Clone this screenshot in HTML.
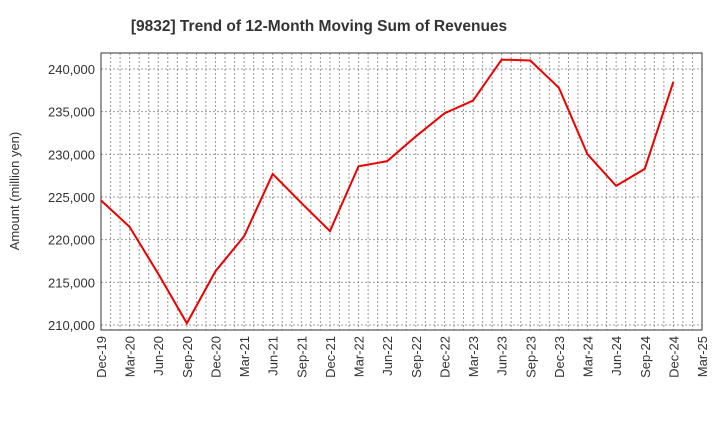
<!DOCTYPE html>
<html><head><meta charset="utf-8"><style>
body{margin:0;background:#fff;font-family:"Liberation Sans",sans-serif}
</style></head><body>
<svg id="c" width="720" height="440" xmlns="http://www.w3.org/2000/svg">
<text x="319" y="31" text-anchor="middle" font-size="15.5" font-weight="bold" fill="#333">[9832]  Trend of 12-Month Moving Sum of Revenues</text>
<text transform="translate(19,191) rotate(-90)" text-anchor="middle" font-size="13" fill="#333">Amount (million yen)</text>
<g id="g"></g>
</svg>
<script>
const categories=["Dec-19","Mar-20","Jun-20","Sep-20","Dec-20","Mar-21","Jun-21","Sep-21","Dec-21","Mar-22","Jun-22","Sep-22","Dec-22","Mar-23","Jun-23","Sep-23","Dec-23","Mar-24","Jun-24","Sep-24","Dec-24","Mar-25"];
const revenues=[224600,221500,216000,210200,216300,220400,227700,224300,221000,228600,229200,232100,234800,236300,241100,241000,237800,230000,226300,228300,238500];
const yTicks=[210000,215000,220000,225000,230000,235000,240000];
const L=101,R=702,T=53,B=330,yMin=209414,yMax=241875;
const x=i=>L+(R-L)*i/(categories.length-1);
const y=v=>B-(v-yMin)/(yMax-yMin)*(B-T);
const g=document.getElementById('g');
const NS="http://www.w3.org/2000/svg";
function mk(t,a){const e=document.createElementNS(NS,t);for(const k in a)e.setAttribute(k,a[k]);g.appendChild(e);return e;}
const months=(categories.length-1)*3;
for(let m=1;m<months;m++){const xx=L+(R-L)*m/months;
const ln=mk('line',{x1:xx,x2:xx,y1:T,y2:B,stroke:'#999','stroke-dasharray':'2,2','stroke-width':1});

}
yTicks.forEach(v=>{const ln=mk('line',{x1:L,x2:R,y1:y(v),y2:y(v),stroke:'#999','stroke-dasharray':'2,2'});


const t=mk('text',{x:L-6,y:y(v)+5,'text-anchor':'end','font-size':13,fill:'#333'});t.textContent=v.toLocaleString('en-US');

});
categories.forEach((c,i)=>{const t=mk('text',{transform:`translate(${x(i)+5},${B+6}) rotate(-90)`,'text-anchor':'end','font-size':13,fill:'#333'});t.textContent=c;

});
const fr=mk('rect',{x:L,y:T,width:R-L,height:B-T,fill:'none',stroke:'#333'});


const p=mk('polyline',{points:revenues.map((v,i)=>x(i)+','+y(v)).join(' '),fill:'none',stroke:'#e00','stroke-width':2});


</script>
</body></html>
